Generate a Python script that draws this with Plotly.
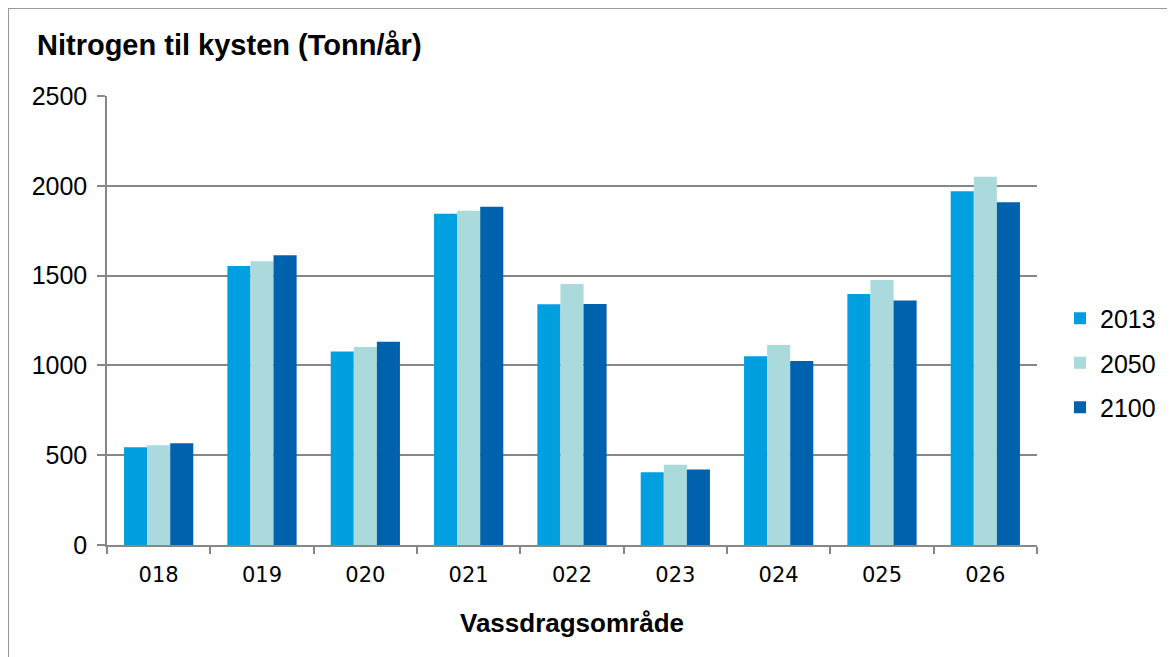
import plotly.graph_objects as go

# Vassdragsområder og verdier (tonn/år) lest av figuren
omrader = ["018", "019", "020", "021", "022", "023", "024", "025", "026"]
verdier_2013 = [544, 1553, 1078, 1845, 1340, 405, 1051, 1398, 1969]
verdier_2050 = [555, 1580, 1102, 1861, 1453, 447, 1114, 1475, 2051]
verdier_2100 = [566, 1613, 1132, 1884, 1342, 421, 1024, 1362, 1908]
serier = ["2013", "2050", "2100"]
farger = ["#009FE0", "#AADADC", "#0062AC"]
y_ticks = [0, 500, 1000, 1500, 2000, 2500]

# siden får 8 px body-marg, så alt forskyves 8 px
OFF = 8
W, H = 1175 - OFF, 657 - OFF
L, R, T, B = 107 - OFF, 1037 - OFF, 96 - OFF, 545 - OFF   # plotområde i piksler

fig = go.Figure()
for navn, vals, farge in zip(serier, [verdier_2013, verdier_2050, verdier_2100], farger):
    fig.add_trace(go.Bar(
        x=omrader, y=vals, name=navn, legendgroup=navn,
        marker=dict(color=farge, line=dict(width=0)),
    ))

grid = "#878787"
fig.update_layout(
    width=W, height=H,
    margin=dict(l=L, r=W - R, t=T, b=H - B, autoexpand=False),
    paper_bgcolor="white", plot_bgcolor="white",
    barmode="group", bargap=0.33, bargroupgap=0,
    font=dict(family="Liberation Sans, Arial", color="black"),
    title=dict(text="<b>Nitrogen til kysten (Tonn/år)</b>",
               font=dict(size=29, family="Liberation Sans, Arial"),
               xref="container", yref="container",
               x=(37 - OFF) / W, y=1 - (45 - OFF) / H, xanchor="left", yanchor="middle"),
    legend=dict(x=(1060 - 107) / (1037 - 107), y=(545 - 363) / (545 - 96),
                xanchor="left", yanchor="middle",
                font=dict(size=25), tracegroupgap=9, bgcolor="rgba(0,0,0,0)"),
    showlegend=True,
)
fig.update_xaxes(
    showline=True, linecolor=grid, linewidth=1.5,
    ticks="outside", tickson="boundaries", ticklen=7, tickcolor=grid, tickwidth=1.5,
    tickfont=dict(family="DejaVu Sans", size=21), ticklabelstandoff=10,
    title=dict(text="<b>Vassdragsområde</b>", font=dict(size=26), standoff=28),
    showgrid=False,
)
fig.update_yaxes(
    range=[0, 2500], tickvals=y_ticks,
    showline=True, linecolor=grid, linewidth=1.5,
    ticks="outside", ticklen=8, tickcolor=grid, tickwidth=1.5,
    tickfont=dict(size=25), ticklabelstandoff=5,
    showgrid=True, gridcolor=grid, gridwidth=1.5,
    zeroline=False,
)

# ytre ramme rundt diagrammet
fig.add_shape(type="rect", xref="paper", yref="paper",
              x0=(0 - L) / (R - L), x1=(W + 20 - L) / (R - L),
              y0=(B - H - 20) / (B - T), y1=(B - 0) / (B - T),
              line=dict(color="#9a9a9a", width=2), fillcolor="rgba(0,0,0,0)",
              layer="below")

fig.write_html("out.html")
